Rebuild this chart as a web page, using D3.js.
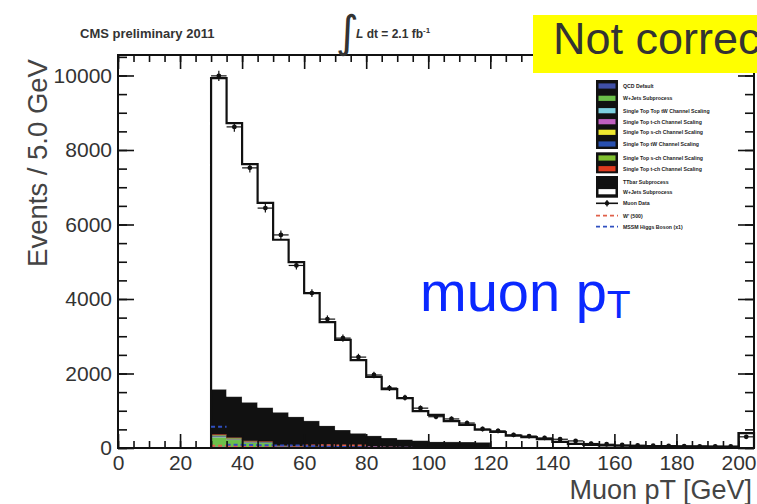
<!DOCTYPE html>
<html><head><meta charset="utf-8">
<script src="https://cdn.jsdelivr.net/npm/d3@7"></script>
<style>html,body{margin:0;padding:0;background:#fff;overflow:hidden}</style>
</head><body>
<svg id="c" width="757" height="504"></svg>
<script>
// Muon pT distribution, 5 GeV bins from 30 GeV; the last bin (200-205) holds the overflow.
const binLow = [30,35,40,45,50,55,60,65,70,75,80,85,90,95,100,105,110,115,120,125,130,135,140,145,150,155,160,165,170,175,180,185,190,195,200];
const binWidth = 5;

// Stacked simulation components (bottom to top)
const qcd      = [40,30,25,25,15,12,8,6,4,3,2,2,1,1,0,0,0,0,0,0,0,0,0,0,0,0,0,0,0,0,0,0,0,0,0];
const wSub     = [250,190,120,115,20,15,10,8,6,4,3,2,2,1,1,0,0,0,0,0,0,0,0,0,0,0,0,0,0,0,0,0,0,0,0];
const stTWa    = [8,6,5,4,3,2,2,1,1,1,0,0,0,0,0,0,0,0,0,0,0,0,0,0,0,0,0,0,0,0,0,0,0,0,0];
const stTa     = [6,5,4,3,2,2,1,1,0,0,0,0,0,0,0,0,0,0,0,0,0,0,0,0,0,0,0,0,0,0,0,0,0,0,0];
const stSa     = [4,3,3,2,2,1,1,0,0,0,0,0,0,0,0,0,0,0,0,0,0,0,0,0,0,0,0,0,0,0,0,0,0,0,0];
const stTb     = [25,20,15,12,10,8,6,4,3,2,1,0,0,0,0,0,0,0,0,0,0,0,0,0,0,0,0,0,0,0,0,0,0,0,0];
const stSb     = [15,12,10,8,6,4,3,2,2,1,0,0,0,0,0,0,0,0,0,0,0,0,0,0,0,0,0,0,0,0,0,0,0,0,0];
const stTWb    = [20,18,15,12,10,8,6,5,4,3,2,1,0,0,0,0,0,0,0,0,0,0,0,0,0,0,0,0,0,0,0,0,0,0,0];
const ttbar    = [1207,1096,1028,909,892,788,693,573,465,381,322,265,227,198,169,165,160,155,20,18,16,14,12,10,9,8,7,6,6,5,5,4,4,4,20];
const wMain    = [8355,7340,6395,5490,4630,4150,3430,2780,2415,1965,1580,1310,1110,790,720,555,460,335,410,312,274,226,153,100,71,62,53,49,44,43,40,38,36,34,380];

// Observed events per bin
const dataCounts = [9990,8620,7520,6440,5720,4900,4160,3460,2950,2440,1960,1610,1350,1070,840,780,670,510,460,350,320,270,235,190,120,100,80,70,60,55,50,45,45,40,300];

// Overlaid dashed curves
const redCurve  = [60,55,50,50,45,50,70,75,70,65,25,12,6,3,1,0,0,0,0,0,0,0,0,0,0,0,0,0,0,0,0,0,0,0,0];
const blueCurve = [570,90,80,75,70,65,45,35,25,18,12,8,5,3,2,0,0,0,0,0,0,0,0,0,0,0,0,0,0,0,0,0,0,0,0];

const xTicksMajor = [0,20,40,60,80,100,120,140,160,180,200];
const yTicksMajor = [0,2000,4000,6000,8000,10000];

const legendLabels = ["QCD Default","W+Jets Subprocess","Single Top Top tW Channel Scaling","Single Top t-ch Channel Scaling",
  "Single Top s-ch Channel Scaling","Single Top tW Channel Scaling","Single Top s-ch Channel Scaling","Single Top t-ch Channel Scaling",
  "TTbar Subprocess","W+Jets Subprocess","Muon Data","W' (500)","MSSM Higgs Boson (x1)"];

const components = [
  {key:"qcd",   values:qcd,   color:"#4050a8"},
  {key:"wSub",  values:wSub,  color:"#6cc04a"},
  {key:"stTWa", values:stTWa, color:"#7dd0e0"},
  {key:"stTa",  values:stTa,  color:"#c060c0"},
  {key:"stSa",  values:stSa,  color:"#f0e830"},
  {key:"stTb",  values:stTb,  color:"#2850b0"},
  {key:"stSb",  values:stSb,  color:"#80c030"},
  {key:"stTWb", values:stTWb, color:"#e03a1e"},
  {key:"ttbar", values:ttbar, color:"#111111"},
  {key:"wMain", values:wMain, color:"#ffffff"}
];

const svg = d3.select("#c");
const font = "'Liberation Sans', Arial, Helvetica, sans-serif";

const x = d3.scaleLinear().domain([0, 205]).range([118, 754]);
const y = d3.scaleLinear().domain([0, 10550]).range([448, 55]);

// table of bins for the stack
const rows = binLow.map((lo, i) => {
  const r = {lo};
  components.forEach(c => r[c.key] = c.values[i]);
  return r;
});
const stacked = d3.stack().keys(components.map(c => c.key))(rows);

// step areas, extended to the right edge of the last bin
const area = d3.area()
  .x(d => x(d.xv)).y0(d => y(d.v0)).y1(d => y(d.v1))
  .curve(d3.curveStepAfter);

const gStack = svg.append("g");
stacked.forEach((s, k) => {
  const pts = s.map(d => ({xv: d.data.lo, v0: d[0], v1: d[1]}));
  const last = s[s.length - 1];
  pts.push({xv: last.data.lo + binWidth, v0: last[0], v1: last[1]});
  gStack.append("path").attr("d", area(pts)).attr("fill", components[k].color)
    .attr("stroke", components[k].color).attr("stroke-width", 0.3);
});

// outline of total simulation
const totals = stacked[stacked.length - 1].map(d => d[1]);
const outlinePts = [[binLow[0], 0]];
binLow.forEach((lo, i) => outlinePts.push([lo, totals[i]]));
outlinePts.push([binLow[binLow.length-1] + binWidth, totals[totals.length-1]]);
outlinePts.push([binLow[binLow.length-1] + binWidth, 0]);
const line = d3.line().x(d => x(d[0])).y(d => y(d[1])).curve(d3.curveStepAfter);
svg.append("path").attr("d", line(outlinePts)).attr("fill", "none")
  .attr("stroke", "#111").attr("stroke-width", 2.2);

// dashed overlay curves
function dashed(values, color) {
  const g = svg.append("g");
  values.forEach((v, i) => {
    if (v <= 0) return;
    g.append("line")
      .attr("x1", x(binLow[i])).attr("x2", x(binLow[i] + binWidth))
      .attr("y1", y(v)).attr("y2", y(v))
      .attr("stroke", color).attr("stroke-width", 2).attr("stroke-dasharray", "4,3");
  });
}
dashed(redCurve, "#e0604a");
dashed(blueCurve, "#3050c0");

// data points with statistical errors
const gData = svg.append("g").attr("stroke", "#111").attr("fill", "#111");
dataCounts.forEach((n, i) => {
  const cx = x(binLow[i] + binWidth / 2), cy = y(n), e = Math.sqrt(n);
  gData.append("line").attr("x1", x(binLow[i])).attr("x2", x(binLow[i] + binWidth))
    .attr("y1", cy).attr("y2", cy).attr("stroke-width", 1.2);
  gData.append("line").attr("x1", cx).attr("x2", cx)
    .attr("y1", y(n + e) - 1.5).attr("y2", y(Math.max(0, n - e)) + 1.5).attr("stroke-width", 1.2);
  gData.append("circle").attr("cx", cx).attr("cy", cy).attr("r", 2.4).attr("stroke", "none");
});

// axes: major + minor ticks on all four sides
const xMinor = d3.range(0, 205, 5);
const yMinor = d3.range(0, 10550, 500);
function styleAxis(g) {
  g.select(".domain").remove();
  g.selectAll("line").attr("stroke", "#111").attr("stroke-width", 1.6);
  g.selectAll("text").attr("font-family", font).attr("font-size", 21).attr("fill", "#333");
}
svg.append("g").attr("transform", "translate(0,448)")
  .call(d3.axisBottom(x).tickValues(xMinor).tickSize(-7).tickFormat("")).call(styleAxis);
svg.append("g").attr("transform", "translate(0,448)")
  .call(d3.axisBottom(x).tickValues(xTicksMajor).tickSize(-14).tickPadding(7).tickFormat(d3.format("d"))).call(styleAxis);
svg.append("g").attr("transform", "translate(0,55)")
  .call(d3.axisTop(x).tickValues(xMinor).tickSize(-7).tickFormat("")).call(styleAxis);
svg.append("g").attr("transform", "translate(0,55)")
  .call(d3.axisTop(x).tickValues(xTicksMajor).tickSize(-14).tickFormat("")).call(styleAxis);
svg.append("g").attr("transform", "translate(118,0)")
  .call(d3.axisLeft(y).tickValues(yMinor).tickSize(-9).tickFormat("")).call(styleAxis);
svg.append("g").attr("transform", "translate(118,0)")
  .call(d3.axisLeft(y).tickValues(yTicksMajor).tickSize(-16).tickPadding(6).tickFormat(d3.format("d"))).call(styleAxis);
svg.append("g").attr("transform", "translate(754,0)")
  .call(d3.axisRight(y).tickValues(yMinor).tickSize(-9).tickFormat("")).call(styleAxis);
svg.append("g").attr("transform", "translate(754,0)")
  .call(d3.axisRight(y).tickValues(yTicksMajor).tickSize(-16).tickFormat("")).call(styleAxis);

// frame
svg.append("rect").attr("x", 118).attr("y", 55).attr("width", 636).attr("height", 393)
  .attr("fill", "none").attr("stroke", "#111").attr("stroke-width", 2);

// axis titles
svg.append("text").attr("transform", "translate(47,163) rotate(-90)")
  .attr("text-anchor", "middle").attr("font-family", font).attr("font-size", 27.5).attr("fill", "#444")
  .text("Events / 5.0 GeV");
svg.append("text").attr("x", 752).attr("y", 499).attr("text-anchor", "end")
  .attr("font-family", font).attr("font-size", 27).attr("fill", "#444").text("Muon pT [GeV]");

// header
svg.append("text").attr("x", 80).attr("y", 38).attr("font-family", font).attr("font-weight", "bold")
  .attr("font-size", 13).attr("fill", "#333").text("CMS preliminary 2011");
svg.append("text").attr("x", 336).attr("y", 47).attr("font-family", "'DejaVu Sans', sans-serif")
  .attr("font-size", 44).attr("fill", "#333").text("∫");
const lumi = svg.append("text").attr("x", 356).attr("y", 38).attr("font-family", font)
  .attr("font-weight", "bold").attr("font-size", 12).attr("fill", "#333");
lumi.append("tspan").attr("font-style", "italic").text("L");
lumi.append("tspan").text(" dt = 2.1 fb");
lumi.append("tspan").attr("font-size", 8).attr("dy", -5).text("-1");

// legend
const lg = svg.append("g");
const sw = {x: 596, w: 22};
const groups = [
  {y0: 80, y1: 149, rows: [[86,0],[98.3,1],[110.7,2],[121.7,3],[132.3,4],[144,5]]},
  {y0: 152.3, y1: 173.3, rows: [[158,6],[168.7,7]]},
  {y0: 176, y1: 197.7, rows: [[181.7,8],[191.7,9]]}
];
groups.forEach(g => {
  lg.append("rect").attr("x", sw.x).attr("y", g.y0).attr("width", sw.w).attr("height", g.y1 - g.y0).attr("fill", "#111");
  g.rows.forEach(([cy, k]) => {
    lg.append("rect").attr("x", sw.x + 2.5).attr("y", cy - 2.6).attr("width", sw.w - 5).attr("height", 5.2)
      .attr("fill", components[k].color);
  });
});
const legendRowsY = [86,98.3,110.7,121.7,132.3,144,158,168.7,181.7,191.7,203.3,215.7,226.7];
legendLabels.forEach((t, i) => {
  lg.append("text").attr("x", 623).attr("y", legendRowsY[i] + 1.8).attr("font-family", font)
    .attr("font-weight", "bold").attr("font-size", 5.2).attr("fill", "#222").text(t);
});
lg.append("line").attr("x1", sw.x).attr("x2", sw.x + sw.w).attr("y1", 203.3).attr("y2", 203.3).attr("stroke", "#111").attr("stroke-width", 1.6);
lg.append("line").attr("x1", sw.x + sw.w/2).attr("x2", sw.x + sw.w/2).attr("y1", 200).attr("y2", 206.6).attr("stroke", "#111").attr("stroke-width", 1.2);
lg.append("circle").attr("cx", sw.x + sw.w/2).attr("cy", 203.3).attr("r", 2.2).attr("fill", "#111");
lg.append("line").attr("x1", sw.x).attr("x2", sw.x + sw.w).attr("y1", 215.7).attr("y2", 215.7).attr("stroke", "#e0604a").attr("stroke-width", 1.8).attr("stroke-dasharray", "4,3");
lg.append("line").attr("x1", sw.x).attr("x2", sw.x + sw.w).attr("y1", 226.7).attr("y2", 226.7).attr("stroke", "#3050c0").attr("stroke-width", 1.8).attr("stroke-dasharray", "4,3");

// annotation
svg.append("text").attr("x", 420).attr("y", 311).attr("font-family", font).attr("font-size", 56)
  .attr("fill", "#0a28ff").text("muon p")
  .append("tspan").attr("font-size", 39).attr("dy", 7).text("T");

// note box
svg.append("rect").attr("x", 533).attr("y", 15).attr("width", 224).attr("height", 58).attr("fill", "#ffff00");
svg.append("text").attr("x", 553).attr("y", 54).attr("font-family", font).attr("font-size", 45)
  .attr("fill", "#333").text("Not corrected");
</script></body></html>
